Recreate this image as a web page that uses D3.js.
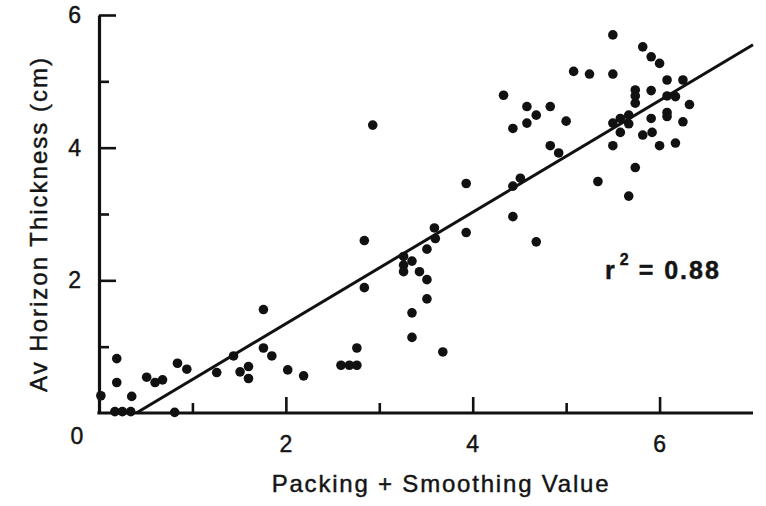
<!DOCTYPE html>
<html>
<head>
<meta charset="utf-8">
<script src="https://cdn.jsdelivr.net/npm/d3@7"></script>
<style>
	body { margin: 0; background: #ffffff; }
	#chart text { font-family: "Liberation Sans", Arial, sans-serif; fill: #141414; stroke: #141414; stroke-width: 0.45px; }
</style>
</head>
<body>
<div id="chart"></div>
<script>
// packing + smoothing value (x) for every sample
var packingValues = [
	0.02, 0.19, 0.19, 0.35, 0.17, 0.25, 0.34, 0.81,
	0.51, 0.60, 0.68, 0.84, 0.94, 1.26, 1.44, 1.51, 1.60, 1.60,
	1.76, 1.76, 1.85, 2.02, 2.19,
	2.59, 2.68, 2.76, 2.76, 2.84, 2.84, 2.93, 3.26, 3.26, 3.26,
	3.35, 3.43, 3.51, 3.51, 3.51, 3.35, 3.35, 3.59, 3.60, 3.68, 3.93, 3.93,
	4.33, 4.43, 4.43, 4.43, 4.51, 4.58, 4.58, 4.68, 4.68, 4.83, 4.83,
	4.92, 5.00, 5.08, 5.25, 5.34,
	5.50, 5.50, 5.50, 5.50, 5.58, 5.58, 5.67, 5.67, 5.67, 5.74, 5.74,
	5.74, 5.74, 5.82, 5.82, 5.91, 5.91, 5.91, 5.92, 6.00, 6.00, 6.08,
	6.08, 6.08, 6.08, 6.17, 6.17, 6.25, 6.25, 6.32
];

// average horizon thickness in cm (y), same order as above
var thicknessValues = [
	0.26, 0.82, 0.46, 0.25, 0.02, 0.02, 0.02, 0.01,
	0.54, 0.46, 0.50, 0.75, 0.66, 0.61, 0.86, 0.62, 0.70, 0.52,
	1.56, 0.98, 0.86, 0.65, 0.56,
	0.72, 0.72, 0.72, 0.98, 2.60, 1.89, 4.34, 2.36, 2.23, 2.13,
	2.29, 2.13, 2.47, 2.01, 1.72, 1.51, 1.14, 2.79, 2.63, 0.92, 3.46, 2.72,
	4.79, 4.29, 3.42, 2.96, 3.54, 4.62, 4.37, 4.49, 2.58, 4.62, 4.03,
	3.92, 4.40, 5.15, 5.11, 3.49,
	5.70, 5.11, 4.37, 4.03, 4.44, 4.23, 4.49, 4.36, 3.27, 4.87, 4.78,
	4.67, 3.70, 5.52, 4.19, 5.37, 4.86, 4.44, 4.23, 5.27, 4.03, 5.02,
	4.78, 4.53, 4.47, 4.77, 4.07, 5.02, 4.39, 4.65
];

var xTicks = [1, 2, 3, 4, 5, 6];
var yTicks = [1, 2, 3, 4, 5, 6];

// least squares fit drawn over the points
var fitSlope = 0.841;
var fitIntercept = -0.336;
var rSquared = "0.88";

function drawChart()
{
	var width = 766;
	var height = 506;

	var svg = d3.select("#chart").append("svg")
		.attr("width", width)
		.attr("height", height);

	var x = d3.scaleLinear().domain([0, 7]).range([99, 753]);
	var y = d3.scaleLinear().domain([0, 6]).range([413, 15]);

	// y axis, ticks pointing inward, only even values labelled
	var yAxis = svg.append("g")
		.attr("transform", "translate(" + x(0) + ",0)")
		.call(d3.axisLeft(y)
			.tickValues(yTicks)
			.tickSizeInner(-16)
			.tickSizeOuter(0)
			.tickPadding(17)
			.tickFormat(function(d) { return d % 2 === 0 ? d : ""; }));

	// x axis
	var xAxis = svg.append("g")
		.attr("transform", "translate(0," + y(0) + ")")
		.call(d3.axisBottom(x)
			.tickValues(xTicks)
			.tickSizeInner(-16)
			.tickSizeOuter(0)
			.tickPadding(23)
			.tickFormat(function(d) { return d % 2 === 0 ? d : ""; }));

	[yAxis, xAxis].forEach(function(axis) {
		axis.select(".domain")
			.attr("stroke", "#111")
			.attr("stroke-width", 3.2);
		axis.selectAll(".tick line")
			.attr("stroke", "#111")
			.attr("stroke-width", 2.6);
		axis.selectAll(".tick text")
			.style("font-size", "23px")
			.style("letter-spacing", "1px")
			.attr("font-family", null);
	});

	// odd ticks are shorter
	yAxis.selectAll(".tick line")
		.attr("x2", function(d) { return d % 2 === 0 ? 17 : 10; });
	xAxis.selectAll(".tick line")
		.attr("y2", function(d) { return d % 2 === 0 ? -16 : -10; });

	// the axes meet at a square corner
	xAxis.select(".domain").attr("d", "M" + (x(0) - 1.6) + ",0H" + x(7));

	// shared zero in the corner
	svg.append("text")
		.attr("x", x(0) - 22)
		.attr("y", y(0) + 31)
		.attr("text-anchor", "middle")
		.style("font-size", "23px")
		.text("0");

	// axis titles
	svg.append("text")
		.attr("x", 441)
		.attr("y", 492)
		.attr("text-anchor", "middle")
		.style("font-size", "24px")
		.style("letter-spacing", "1.8px")
		.text("Packing + Smoothing Value");

	svg.append("text")
		.attr("transform", "translate(47,224) rotate(-90)")
		.attr("text-anchor", "middle")
		.style("font-size", "24px")
		.style("letter-spacing", "2px")
		.text("Av Horizon Thickness (cm)");

	// points
	svg.append("g").selectAll("circle")
		.data(packingValues)
		.enter().append("circle")
		.attr("cx", function(d) { return x(d); })
		.attr("cy", function(d, i) { return y(thicknessValues[i]); })
		.attr("r", 4.8)
		.attr("fill", "#111");

	// regression line, from where it crosses zero to the right edge
	var x0 = -fitIntercept / fitSlope;
	svg.append("line")
		.attr("x1", x(x0))
		.attr("y1", y(0))
		.attr("x2", x(7))
		.attr("y2", y(fitIntercept + fitSlope * 7))
		.attr("stroke", "#111")
		.attr("stroke-width", 3);

	// r squared label
	var label = svg.append("text")
		.attr("x", 605)
		.attr("y", 279)
		.style("font-size", "25px")
		.style("font-weight", "bold")
		.style("letter-spacing", "2px");
	label.append("tspan").text("r");
	label.append("tspan")
		.attr("dx", 3)
		.attr("dy", -14)
		.style("font-size", "16px")
		.text("2");
	label.append("tspan")
		.attr("dx", 8)
		.attr("dy", 14)
		.text("= " + rSquared);
}

drawChart();
</script>
</body>
</html>
